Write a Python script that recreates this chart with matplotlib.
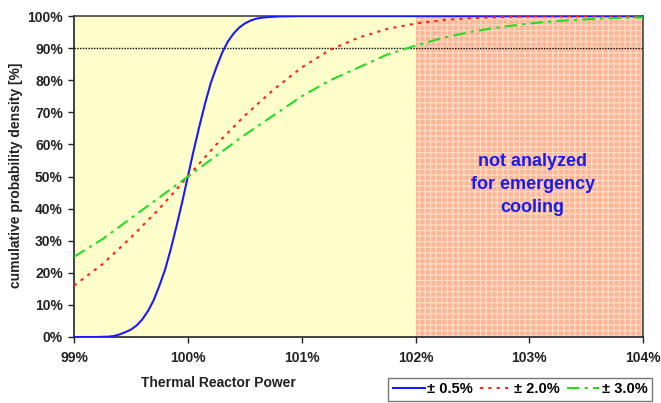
import numpy as np
import matplotlib
matplotlib.use('Agg')
import matplotlib.pyplot as plt
from matplotlib.ticker import FuncFormatter

plt.rcParams['font.family'] = ['Liberation Sans', 'DejaVu Sans']
plt.rcParams['font.weight'] = 'bold'
plt.rcParams['hatch.linewidth'] = 0.9

# power in % of nominal, cumulative probability in %
power_05 = [99.0, 99.2, 99.3, 99.35, 99.4, 99.45, 99.5, 99.55, 99.6, 99.65, 99.7,
            99.75, 99.8, 99.85, 99.9, 99.95, 100.0, 100.05, 100.1, 100.15, 100.2,
            100.25, 100.3, 100.35, 100.4, 100.45, 100.5, 100.55, 100.6, 100.65,
            100.7, 100.75, 100.8, 101.0, 104.0]
cum_05 = [0.0, 0.0, 0.1, 0.3, 0.8, 1.5, 2.3, 3.6, 5.5, 8.1, 11.5,
          16.0, 21.0, 27.4, 34.5, 42.0, 50.0, 58.0, 65.5, 72.6, 79.0,
          84.0, 88.5, 92.0, 94.5, 96.4, 97.7, 98.6, 99.2, 99.5,
          99.7, 99.8, 99.9, 100.0, 100.0]

power_20 = [99.0, 99.25, 99.5, 99.75, 100.0, 100.25, 100.5, 100.75, 101.0,
            101.25, 101.5, 101.75, 102.0, 102.25, 102.5, 102.75, 103.0, 103.5, 104.0]
cum_20 = [16.0, 22.7, 31.0, 40.0, 50.0, 60.0, 69.0, 77.0, 84.0,
          89.5, 93.3, 96.0, 97.7, 98.8, 99.4, 99.7, 99.9, 100.0, 100.0]

power_30 = [99.0, 99.25, 99.5, 99.75, 100.0, 100.25, 100.5, 100.75, 101.0, 101.25,
            101.5, 101.75, 102.0, 102.25, 102.5, 102.75, 103.0, 103.25, 103.5, 103.75, 104.0]
cum_30 = [25.0, 30.5, 37.0, 43.5, 50.0, 56.5, 63.0, 69.0, 75.0, 80.0,
          84.0, 88.0, 90.8, 93.3, 95.2, 96.6, 97.7, 98.5, 99.0, 99.4, 99.6]

limit_power = 102.0
level_90 = 90.0

fig = plt.figure(figsize=(6.61, 4.03), dpi=100)
ax = fig.add_axes([0.112, 0.1638, 0.861, 0.7962])
ax.set_facecolor('#ffffcc')

# region beyond the analysed power range
ax.axvspan(limit_power, 104, facecolor='#fbb597', edgecolor='#ffdcc6',
           hatch='+++', linewidth=0, zorder=0)

ax.axhline(level_90, color='black', linestyle=(0, (1, 1)), linewidth=1.0, zorder=1)

l1, = ax.plot(power_05, cum_05, color='#1a1aff', linewidth=1.5, label='± 0.5%', zorder=3)
l2, = ax.plot(power_20, cum_20, color='#ff2020', linewidth=1.5,
              linestyle=(0, (1.5, 2.5)), label='± 2.0%', zorder=3)
l3, = ax.plot(power_30, cum_30, color='#22dd22', linewidth=1.5,
              linestyle=(0, (6, 2.5, 1.5, 2.5)), label='± 3.0%', zorder=3)

ax.text(103.03, 47.5, 'not analyzed\nfor emergency\ncooling', color='#1a1aee',
        fontsize=13, fontweight='bold', ha='center', va='center', linespacing=1.45)

ax.set_xlim(99, 104)
ax.set_ylim(0, 100)
ax.set_xticks(np.arange(99, 104.5, 1))
ax.set_yticks(np.arange(0, 101, 10))
ax.xaxis.set_major_formatter(FuncFormatter(lambda v, p: '%d%%' % round(v)))
ax.yaxis.set_major_formatter(FuncFormatter(lambda v, p: '%d%%' % round(v)))
ax.tick_params(axis='both', direction='out', length=4, width=1, labelsize=10,
               colors='#222222', pad=4)
ax.tick_params(axis='x', pad=6)
for side in ['left', 'bottom']:
    ax.spines[side].set_color('#222222')
    ax.spines[side].set_linewidth(1.2)
for side in ['top', 'right']:
    ax.spines[side].set_color('#444444')
    ax.spines[side].set_linewidth(1.2)

fig.text(0.33, 0.05, 'Thermal Reactor Power', ha='center', va='center',
         fontsize=10, fontweight='bold', color='#222222')
fig.text(0.024, 0.566, 'cumulative probability density [%]', ha='center', va='center',
         rotation=90, fontsize=10, fontweight='bold', color='#222222')

leg = fig.legend(handles=[l1, l2, l3], loc='lower right', ncol=3,
                 bbox_to_anchor=(0.997, -0.012), frameon=True, fancybox=False,
                 edgecolor='#555555', fontsize=10.5, handlelength=2.2,
                 handletextpad=0.15, columnspacing=0.5, borderpad=0.3)
leg.get_frame().set_linewidth(1.0)

fig.savefig('out.png', dpi=100)
